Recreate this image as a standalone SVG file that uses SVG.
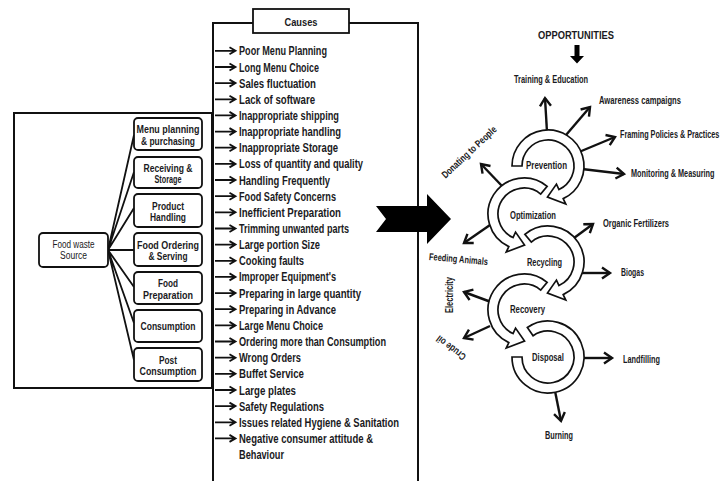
<svg xmlns="http://www.w3.org/2000/svg" xmlns:xlink="http://www.w3.org/1999/xlink" width="724" height="481" viewBox="0 0 724 481">
<defs>
<style>
.box{fill:#fff;stroke:#111;stroke-width:1.8}
.frame{fill:none;stroke:#111;stroke-width:2}
.ct{font-family:"Liberation Sans",Arial,sans-serif;font-size:12.5px;font-weight:bold;fill:#1a1a22}
.bl{font-family:"Liberation Sans",Arial,sans-serif;font-size:10px;font-weight:bold;fill:#1a1a22;text-anchor:middle}
.nl{font-family:"Liberation Sans",Arial,sans-serif;font-size:10px;fill:#1a1a22;text-anchor:middle}
.ol{font-family:"Liberation Sans",Arial,sans-serif;font-size:10px;font-weight:bold;fill:#1a1a22}
.ring{fill:#fff;stroke:#111;stroke-width:1.7;stroke-linejoin:miter}
.conn{stroke:#111;stroke-width:2.4;fill:none;marker-end:url(#chev)}
.fan{stroke:#111;stroke-width:1.8;fill:none}
.ca{stroke:#111;stroke-width:1.8;fill:none}
</style>
<marker id="chev" markerUnits="userSpaceOnUse" viewBox="-10 -7 12 14" markerWidth="12" markerHeight="14" refX="0" refY="0" orient="auto" overflow="visible">
<path d="M-8,-5.5 L0,0 L-8,5.5" fill="none" stroke="#111" stroke-width="2.4"/>
</marker>
<path id="ca" class="ca" d="M0,0 H20 M14.5,-3.5 L20.5,0 L14.5,3.5"/>
</defs>

<!-- Left: food waste sources -->
<g id="sources-frame"><rect class="frame" x="14" y="113" width="198" height="275"/></g>
<g id="connectors-left">
<path class="fan" d="M108,250 L134,135 M108,250 L134,172 M108,250 L134,208 M108,250 L134,250 M108,250 L134,287 M108,250 L134,323 M108,250 L134,360"/>
</g>
<g id="food-waste-source"><rect class="box" x="39" y="233" width="69" height="34" rx="4"/>
<text class="nl" x="73.5" y="248" textLength="42" lengthAdjust="spacingAndGlyphs">Food waste</text>
<text class="nl" x="73.5" y="259" textLength="27" lengthAdjust="spacingAndGlyphs">Source</text></g>
<g id="menu-planning"><rect class="box" x="134" y="118" width="68" height="32" rx="4"/>
<text class="bl" x="168" y="133" textLength="63" lengthAdjust="spacingAndGlyphs">Menu planning</text>
<text class="bl" x="168" y="144.5" textLength="54" lengthAdjust="spacingAndGlyphs">&amp; purchasing</text></g>
<g id="receiving"><rect class="box" x="134" y="157" width="68" height="31" rx="4"/>
<text class="bl" x="168" y="171.5" textLength="49" lengthAdjust="spacingAndGlyphs">Receiving &amp;</text>
<text class="bl" x="168" y="182.5" textLength="27" lengthAdjust="spacingAndGlyphs">Storage</text></g>
<g id="product-handling"><rect class="box" x="134" y="194" width="68" height="33" rx="4"/>
<text class="bl" x="168" y="209.5" textLength="32" lengthAdjust="spacingAndGlyphs">Product</text>
<text class="bl" x="168" y="221" textLength="36" lengthAdjust="spacingAndGlyphs">Handling</text></g>
<g id="food-ordering"><rect class="box" x="134" y="233" width="68" height="33" rx="4"/>
<text class="bl" x="168" y="248.5" textLength="62" lengthAdjust="spacingAndGlyphs">Food Ordering</text>
<text class="bl" x="168" y="260" textLength="39" lengthAdjust="spacingAndGlyphs">&amp; Serving</text></g>
<g id="food-preparation"><rect class="box" x="134" y="272" width="68" height="32" rx="4"/>
<text class="bl" x="168" y="287" textLength="20" lengthAdjust="spacingAndGlyphs">Food</text>
<text class="bl" x="168" y="298.5" textLength="50" lengthAdjust="spacingAndGlyphs">Preparation</text></g>
<g id="consumption"><rect class="box" x="134" y="310" width="68" height="32" rx="4"/>
<text class="bl" x="168" y="329.5" textLength="55" lengthAdjust="spacingAndGlyphs">Consumption</text></g>
<g id="post-consumption"><rect class="box" x="134" y="348" width="68" height="33" rx="4"/>
<text class="bl" x="168" y="363.5" textLength="18" lengthAdjust="spacingAndGlyphs">Post</text>
<text class="bl" x="168" y="375" textLength="57" lengthAdjust="spacingAndGlyphs">Consumption</text></g>

<!-- Causes -->
<g id="causes">
<rect class="frame" x="213" y="23" width="205" height="470"/>
<rect class="box" x="253" y="9" width="96" height="24" stroke-width="2"/>
<text class="bl" x="301" y="26" font-size="12" textLength="33" lengthAdjust="spacingAndGlyphs">Causes</text>
<use href="#ca" x="215" y="50.8"/><text class="ct" x="239" y="55.3" textLength="88" lengthAdjust="spacingAndGlyphs">Poor Menu Planning</text>
<use href="#ca" x="215" y="67"/><text class="ct" x="239" y="71.5" textLength="80" lengthAdjust="spacingAndGlyphs">Long Menu Choice</text>
<use href="#ca" x="215" y="83.1"/><text class="ct" x="239" y="87.6" textLength="77" lengthAdjust="spacingAndGlyphs">Sales fluctuation</text>
<use href="#ca" x="215" y="99.3"/><text class="ct" x="239" y="103.8" textLength="76" lengthAdjust="spacingAndGlyphs">Lack of software</text>
<use href="#ca" x="215" y="115.4"/><text class="ct" x="239" y="119.9" textLength="100" lengthAdjust="spacingAndGlyphs">Inappropriate shipping</text>
<use href="#ca" x="215" y="131.6"/><text class="ct" x="239" y="136.1" textLength="102" lengthAdjust="spacingAndGlyphs">Inappropriate handling</text>
<use href="#ca" x="215" y="147.7"/><text class="ct" x="239" y="152.2" textLength="99" lengthAdjust="spacingAndGlyphs">Inappropriate Storage</text>
<use href="#ca" x="215" y="163.9"/><text class="ct" x="239" y="168.4" textLength="124" lengthAdjust="spacingAndGlyphs">Loss of quantity and quality</text>
<use href="#ca" x="215" y="180"/><text class="ct" x="239" y="184.5" textLength="91" lengthAdjust="spacingAndGlyphs">Handling Frequently</text>
<use href="#ca" x="215" y="196.2"/><text class="ct" x="239" y="200.7" textLength="97" lengthAdjust="spacingAndGlyphs">Food Safety Concerns</text>
<use href="#ca" x="215" y="212.3"/><text class="ct" x="239" y="216.8" textLength="102" lengthAdjust="spacingAndGlyphs">Inefficient Preparation</text>
<use href="#ca" x="215" y="228.5"/><text class="ct" x="239" y="233" textLength="110" lengthAdjust="spacingAndGlyphs">Trimming unwanted parts</text>
<use href="#ca" x="215" y="244.6"/><text class="ct" x="239" y="249.1" textLength="81" lengthAdjust="spacingAndGlyphs">Large portion Size</text>
<use href="#ca" x="215" y="260.8"/><text class="ct" x="239" y="265.3" textLength="65" lengthAdjust="spacingAndGlyphs">Cooking faults</text>
<use href="#ca" x="215" y="276.9"/><text class="ct" x="239" y="281.4" textLength="97" lengthAdjust="spacingAndGlyphs">Improper Equipment's</text>
<use href="#ca" x="215" y="293.1"/><text class="ct" x="239" y="297.6" textLength="122" lengthAdjust="spacingAndGlyphs">Preparing in large quantity</text>
<use href="#ca" x="215" y="309.2"/><text class="ct" x="239" y="313.7" textLength="97" lengthAdjust="spacingAndGlyphs">Preparing in Advance</text>
<use href="#ca" x="215" y="325.4"/><text class="ct" x="239" y="329.9" textLength="84" lengthAdjust="spacingAndGlyphs">Large Menu Choice</text>
<use href="#ca" x="215" y="341.5"/><text class="ct" x="239" y="346" textLength="147" lengthAdjust="spacingAndGlyphs">Ordering more than Consumption</text>
<use href="#ca" x="215" y="357.7"/><text class="ct" x="239" y="362.2" textLength="62" lengthAdjust="spacingAndGlyphs">Wrong Orders</text>
<use href="#ca" x="215" y="373.8"/><text class="ct" x="239" y="378.3" textLength="65" lengthAdjust="spacingAndGlyphs">Buffet Service</text>
<use href="#ca" x="215" y="390"/><text class="ct" x="239" y="394.5" textLength="57" lengthAdjust="spacingAndGlyphs">Large plates</text>
<use href="#ca" x="215" y="406.1"/><text class="ct" x="239" y="410.6" textLength="85" lengthAdjust="spacingAndGlyphs">Safety Regulations</text>
<use href="#ca" x="215" y="422.3"/><text class="ct" x="239" y="426.8" textLength="160" lengthAdjust="spacingAndGlyphs">Issues related Hygiene &amp; Sanitation</text>
<use href="#ca" x="215" y="438.4"/><text class="ct" x="239" y="442.9" textLength="134" lengthAdjust="spacingAndGlyphs">Negative consumer attitude &amp;</text>
<text class="ct" x="239" y="459.1" textLength="45" lengthAdjust="spacingAndGlyphs">Behaviour</text>
</g>

<!-- Big arrow -->
<g id="big-arrow"><polygon points="376,206 427,206 427,194 451,219 427,244 427,232 376,232 386,219" fill="#000"/></g>

<!-- Opportunities -->
<g id="opportunities-title">
<text class="ol" x="576" y="39" font-size="15" text-anchor="middle" textLength="76" lengthAdjust="spacingAndGlyphs">OPPORTUNITIES</text>
<polygon points="574.5,45 579.5,45 579.5,56 584,56 577,63.5 570,56 574.5,56" fill="#000"/>
</g>

<g id="connectors">
<line class="conn" x1="547" y1="132" x2="545" y2="98"/>
<line class="conn" x1="566" y1="135" x2="590" y2="107"/>
<line class="conn" x1="579" y1="152" x2="615" y2="137"/>
<line class="conn" x1="582" y1="169" x2="624" y2="174"/>
<line class="conn" x1="502" y1="186" x2="481" y2="164"/>
<line class="conn" x1="490" y1="225" x2="464" y2="243"/>
<line class="conn" x1="574" y1="238" x2="593" y2="224"/>
<line class="conn" x1="582" y1="273" x2="610" y2="273"/>
<line class="conn" x1="491" y1="302" x2="464" y2="292"/>
<line class="conn" x1="490" y1="326" x2="464" y2="338"/>
<line class="conn" x1="582" y1="358" x2="612" y2="358"/>
<line class="conn" x1="555" y1="391" x2="561" y2="421"/>
</g>

<g id="disposal"><path class="ring" d="M527.35,327.51 A36,36 0 1 1 512,357 L522,357 A26,26 0 1 0 533.09,335.70 Z"/>
<text class="ol" x="548" y="361" text-anchor="middle" textLength="32" lengthAdjust="spacingAndGlyphs">Disposal</text></g>
<g id="recovery"><path class="ring" d="M547.14,282.42 A36,36 0 1 0 508.79,342.63 L506.25,348.06 L524.54,341 L515.55,328.13 L513.01,333.56 A26,26 0 1 1 540.71,290.08 Z"/>
<text class="ol" x="527.5" y="313" text-anchor="middle" textLength="35" lengthAdjust="spacingAndGlyphs">Recovery</text></g>
<g id="recycling"><path class="ring" d="M524.86,234.42 A36,36 0 1 1 563.21,294.63 L565.75,300.06 L547.46,293 L556.45,280.13 L558.99,285.56 A26,26 0 1 0 531.29,242.08 Z"/>
<text class="ol" x="544.5" y="266" text-anchor="middle" textLength="35" lengthAdjust="spacingAndGlyphs">Recycling</text></g>
<g id="optimization"><path class="ring" d="M547.14,186.42 A36,36 0 1 0 508.79,246.63 L506.25,252.06 L524.54,245 L515.55,232.13 L513.01,237.56 A26,26 0 1 1 540.71,194.08 Z"/>
<text class="ol" x="533" y="219" text-anchor="middle" textLength="46" lengthAdjust="spacingAndGlyphs">Optimization</text></g>
<g id="prevention"><path class="ring" d="M512,166 A36,36 0 1 1 563.21,198.63 L565.75,204.06 L547.46,197 L556.45,184.13 L558.99,189.56 A26,26 0 1 0 522,166 Z"/>
<text class="ol" x="546.5" y="169" text-anchor="middle" textLength="41" lengthAdjust="spacingAndGlyphs">Prevention</text></g>

<g id="labels">
<text class="ol" x="551" y="83" text-anchor="middle" textLength="74" lengthAdjust="spacingAndGlyphs">Training &amp; Education</text>
<text class="ol" x="599" y="104" textLength="82" lengthAdjust="spacingAndGlyphs">Awareness campaigns</text>
<text class="ol" transform="translate(620,138) scale(0.725,1)">Framing Policies &amp; Practices</text>
<text class="ol" transform="translate(631,177) scale(0.73,1)">Monitoring &amp; Measuring</text>
<text class="ol" transform="translate(469,152) rotate(-43)" x="0" y="3.5" text-anchor="middle" textLength="71" lengthAdjust="spacingAndGlyphs">Donating to People</text>
<text class="ol" transform="translate(458.5,259) rotate(5)" x="0" y="3.5" text-anchor="middle" textLength="59" lengthAdjust="spacingAndGlyphs">Feeding Animals</text>
<text class="ol" x="603" y="227" textLength="66" lengthAdjust="spacingAndGlyphs">Organic Fertilizers</text>
<text class="ol" x="621" y="276" textLength="23" lengthAdjust="spacingAndGlyphs">Biogas</text>
<text class="ol" transform="translate(449,295) rotate(-90)" x="0" y="3.5" text-anchor="middle" textLength="36" lengthAdjust="spacingAndGlyphs">Electricity</text>
<text class="ol" transform="translate(451,348) rotate(-143)" x="0" y="3.5" text-anchor="middle" textLength="34" lengthAdjust="spacingAndGlyphs">Crude oil</text>
<text class="ol" x="623" y="363" textLength="37" lengthAdjust="spacingAndGlyphs">Landfilling</text>
<text class="ol" x="559" y="439" text-anchor="middle" textLength="28" lengthAdjust="spacingAndGlyphs">Burning</text>
</g>
</svg>
